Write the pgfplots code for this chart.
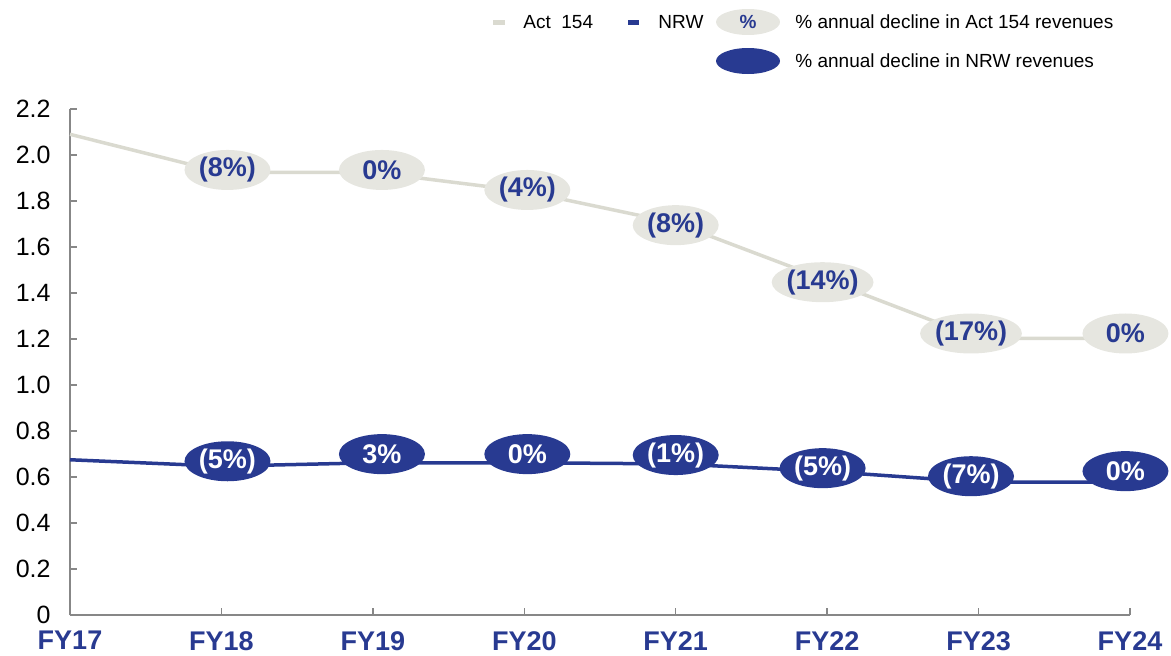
\documentclass[border=0pt]{standalone}
\usepackage{pgfplots}
\pgfplotsset{compat=1.18}
\usepackage{fontspec}
\setmainfont{Liberation Sans}
\usetikzlibrary{shapes.geometric}
\definecolor{actgrey}{HTML}{E6E6E0}
\definecolor{actline}{HTML}{DADAD0}
\definecolor{nrwblue}{HTML}{283A91}
\definecolor{axisgrey}{HTML}{878787}
\begin{document}
\begin{tikzpicture}
\useasboundingbox (-35pt,-20pt) rectangle (550.5pt,307.5pt);
\begin{axis}[
  at={(0pt,0pt)}, anchor=south west,
  scale only axis, width=530pt, height=253pt,
  xmin=0, xmax=7, ymin=0, ymax=2.2,
  axis x line=bottom, axis y line=left,
  axis line style={-, axisgrey, line width=0.75pt},
  xtick={0,1,2,3,4,5,6,7},
  xticklabels={FY17,FY18,FY19,FY20,FY21,FY22,FY23,FY24},
  ytick={0,0.2,0.4,0.6,0.8,1.0,1.2,1.4,1.6,1.8,2.0,2.2},
  yticklabels={0,0.2,0.4,0.6,0.8,1.0,1.2,1.4,1.6,1.8,2.0,2.2},
  tick style={axisgrey, line width=0.75pt},
  major tick length=3.5pt,
  xtick align=inside, ytick align=inside,
  xticklabel style={font=\fontsize{13.5pt}{15pt}\selectfont\bfseries, text=nrwblue, anchor=north, inner sep=0pt, yshift=-8pt},
  yticklabel style={font=\fontsize{12.5pt}{14pt}\selectfont, anchor=east, inner sep=0pt, xshift=-9.5pt},
  clip=false,
]
\addplot[actline, line width=1.75pt, mark=none] coordinates {
  (0,2.09) (1,1.925) (2,1.925) (3,1.843) (4,1.704) (5,1.455) (6,1.203) (7,1.203)};
\addplot[nrwblue, line width=1.75pt, mark=none] coordinates {
  (0,0.675) (1,0.647) (2,0.662) (3,0.662) (4,0.657) (5,0.624) (6,0.578) (7,0.578)};
\addplot[draw=none, mark=none, point meta=explicit symbolic, nodes near coords,
  every node near coord/.append style={ellipse, fill=actgrey, text=nrwblue, anchor=center,
    minimum width=43pt, minimum height=20pt, inner sep=0pt, yshift=-1.5pt,
    font=\fontsize{13.5pt}{15pt}\selectfont\bfseries}]
  coordinates {
  (1.04,1.948) [(8\%)]
  (2.06,1.948) [0\%]
  (3.02,1.861) [(4\%)]
  (4.00,1.708) [(8\%)]
  (4.97,1.460) [(14\%)]
  (5.95,1.237) [(17\%)]
  (6.97,1.237) [0\%]
};
\addplot[draw=none, mark=none, point meta=explicit symbolic, nodes near coords,
  every node near coord/.append style={ellipse, fill=nrwblue, text=white, anchor=center,
    minimum width=43pt, minimum height=20pt, inner sep=0pt, yshift=-0.75pt,
    font=\fontsize{13.5pt}{15pt}\selectfont\bfseries}]
  coordinates {
  (1.04,0.675) [(5\%)]
  (2.06,0.706) [3\%]
  (3.02,0.706) [0\%]
  (4.00,0.702) [(1\%)]
  (4.97,0.645) [(5\%)]
  (5.95,0.610) [(7\%)]
  (6.97,0.632) [0\%]
};
\end{axis}
\draw[actline, line width=2.5pt] (211.5pt,296.5pt) -- (217.5pt,296.5pt);
\node[anchor=west, inner sep=0pt, font=\fontsize{9.5pt}{11pt}\selectfont] at (226.5pt,296.5pt) {Act\ \ 154};
\draw[nrwblue, line width=2.5pt] (279pt,296.5pt) -- (284.5pt,296.5pt);
\node[anchor=west, inner sep=0pt, font=\fontsize{9.5pt}{11pt}\selectfont] at (294pt,296.5pt) {NRW};
\node[ellipse, fill=actgrey, minimum width=32pt, minimum height=13pt, inner sep=0pt, text=nrwblue, font=\fontsize{9.5pt}{11pt}\selectfont\bfseries] at (339pt,296.5pt) {\%};
\node[anchor=west, inner sep=0pt, font=\fontsize{9.5pt}{11pt}\selectfont] at (362.5pt,296.5pt) {\% annual decline in Act 154 revenues};
\node[ellipse, fill=nrwblue, minimum width=32pt, minimum height=13pt, inner sep=0pt] at (339pt,277pt) {};
\node[anchor=west, inner sep=0pt, font=\fontsize{9.5pt}{11pt}\selectfont] at (362.5pt,277pt) {\% annual decline in NRW revenues};
\end{tikzpicture}
\end{document}
